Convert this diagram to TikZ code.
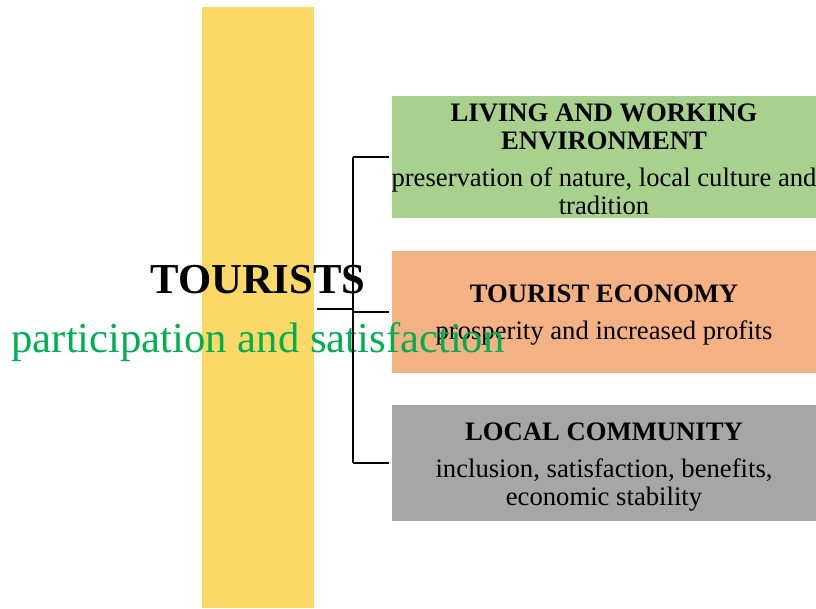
\documentclass[tikz,border=0pt]{standalone}
\usepackage{fontspec}
\setmainfont{Liberation Serif}
\definecolor{barYellow}{RGB}{252,216,102}
\definecolor{envGreen}{RGB}{169,209,142}
\definecolor{ecoOrange}{RGB}{244,177,131}
\definecolor{comGrey}{RGB}{166,166,166}
\definecolor{txtGreen}{RGB}{0,176,80}
\tikzset{
  areabox/.style={minimum width=318pt, inner sep=0pt, outer sep=2pt},
  areatext/.style={inner sep=0pt, align=center, font=\fontsize{20}{21}\selectfont},
  bracket/.style={line width=1.5pt}
}
\begin{document}
\begin{tikzpicture}[x=0.75pt,y=-0.75pt]
\useasboundingbox (0,0) rectangle (816,608);
% tourists column
\node[fill=barYellow, minimum width=84pt, minimum height=450.75pt, inner sep=0pt, outer sep=2pt] (bar) at (258,307.5) {};
% three areas
\node[areabox, fill=envGreen, minimum height=91.5pt] (env) at (604,157) {};
\node[areabox, fill=ecoOrange, minimum height=91.5pt] (eco) at (604,312) {};
\node[areabox, fill=comGrey, minimum height=87pt] (com) at (604,463) {};
\node[areatext] (envtxt) at ([yshift=-1.5pt]env.center)
  {\textbf{LIVING AND WORKING}\\\textbf{ENVIRONMENT}\\[7pt]preservation of nature, local culture and\\tradition};
\node[areatext] (ecotxt) at ([yshift=-2.5pt]eco.center)
  {\textbf{TOURIST ECONOMY}\\[7pt]prosperity and increased profits};
\node[areatext] (comtxt) at ([yshift=-3pt]com.center)
  {\textbf{LOCAL COMMUNITY}\\[7pt]inclusion, satisfaction, benefits,\\economic stability};
% labels on the column
\node[anchor=base, font=\bfseries\fontsize{32}{32}\selectfont] (tourists) at (258,293) {TOURISTS};
\node[anchor=base, text=txtGreen, font=\fontsize{32}{32}\selectfont] (partic) at (258,352) {participation and satisfaction};
% bracket
\coordinate (fork) at (353,309);
\draw[bracket] (bar.east |- fork) -- (fork);
\draw[bracket] (env.west -| fork) -- (com.west -| fork);
\foreach \b in {env,eco,com}
  \draw[bracket] (\b.west -| fork) -- (\b.west);
\end{tikzpicture}
\end{document}
